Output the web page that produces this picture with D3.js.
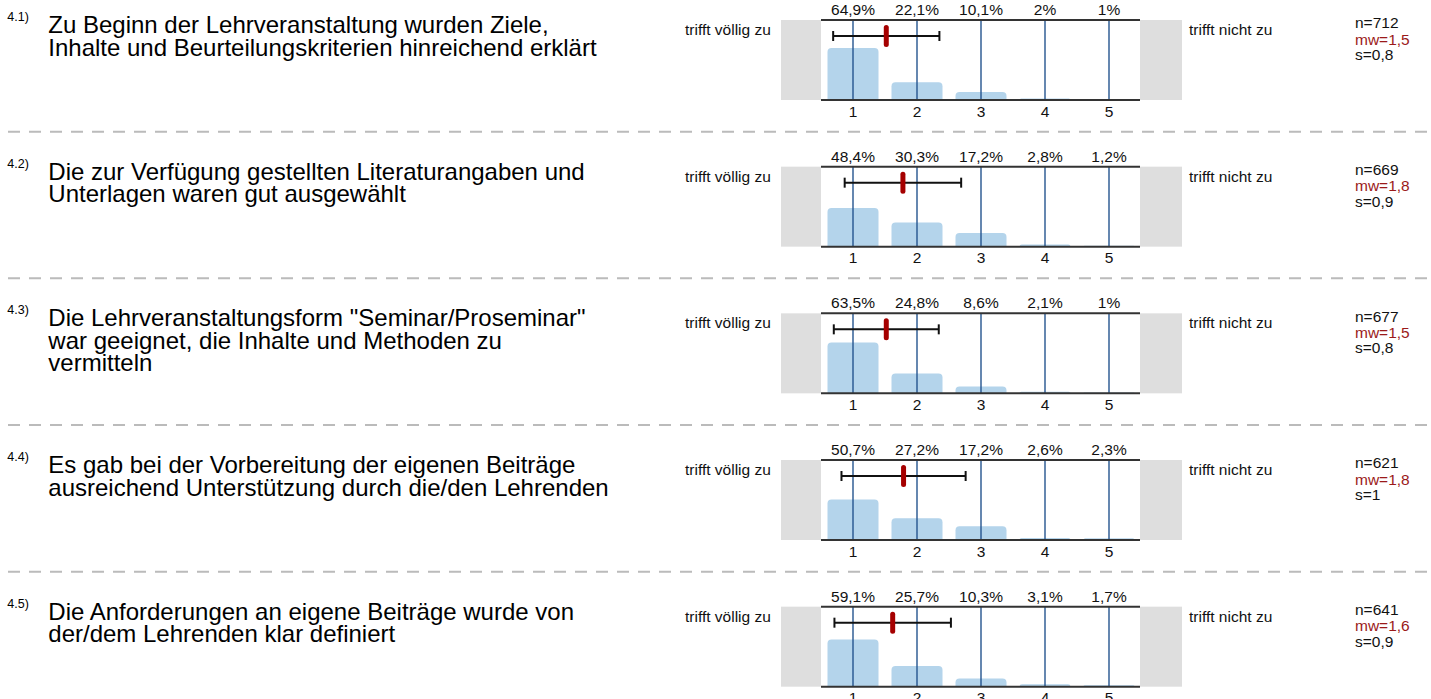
<!DOCTYPE html>
<html>
<head>
<meta charset="utf-8">
<script src="https://cdn.jsdelivr.net/npm/d3@7"></script>
<style>
  html, body { margin: 0; padding: 0; background: #fff; }
  svg { display: block; font-family: "Liberation Sans", Arial, sans-serif; }
</style>
</head>
<body>
<svg id="chart" width="1431" height="699"></svg>
<script>
// ---------- data ----------
const questionIds = ["4.1)", "4.2)", "4.3)", "4.4)", "4.5)"];
const questionLines = [
  ["Zu Beginn der Lehrveranstaltung wurden Ziele,", "Inhalte und Beurteilungskriterien hinreichend erklärt"],
  ["Die zur Verfügung gestellten Literaturangaben und", "Unterlagen waren gut ausgewählt"],
  ["Die Lehrveranstaltungsform \"Seminar/Proseminar\"", "war geeignet, die Inhalte und Methoden zu", "vermitteln"],
  ["Es gab bei der Vorbereitung der eigenen Beiträge", "ausreichend Unterstützung durch die/den Lehrenden"],
  ["Die Anforderungen an eigene Beiträge wurde von", "der/dem Lehrenden klar definiert"]
];
const categories = [1, 2, 3, 4, 5];
const tickLabels = ["1", "2", "3", "4", "5"];
const percentages = [
  [64.9, 22.1, 10.1, 2, 1],
  [48.4, 30.3, 17.2, 2.8, 1.2],
  [63.5, 24.8, 8.6, 2.1, 1],
  [50.7, 27.2, 17.2, 2.6, 2.3],
  [59.1, 25.7, 10.3, 3.1, 1.7]
];
const nValues = [712, 669, 677, 621, 641];
const meanValues = [1.52, 1.78, 1.52, 1.79, 1.62];
const sdValues = [0.83, 0.91, 0.82, 0.97, 0.91];
const leftLabel = "trifft völlig zu";
const rightLabel = "trifft nicht zu";

// ---------- layout ----------
const svg = d3.select("#chart");
const panelTop0 = 20, panelStep = 146.67, plotH = 80;
const plotL = 821, plotR = 1140, greyL = 781, greyR = 1182;
const x = d3.scaleLinear().domain([0.5, 5.5]).range([plotL, plotL + 320]);
const y = d3.scaleLinear().domain([0, 100]).range([plotH, 0]);
const barW = 51, r = 4;
const fmtNum = v => String(v).replace(".", ",");
const fmt1 = d3.format(".1~f");
const smallFont = 15.5;

function barPath(cx, h) {
  const x0 = cx - barW / 2, x1 = cx + barW / 2, yb = plotH, yt = plotH - h;
  const rr = Math.min(r, h);
  return `M${x0},${yb}L${x0},${yt + rr}Q${x0},${yt} ${x0 + rr},${yt}L${x1 - rr},${yt}Q${x1},${yt} ${x1},${yt + rr}L${x1},${yb}Z`;
}

questionIds.forEach((qid, i) => {
  const T = panelTop0 + i * panelStep;
  const g = svg.append("g").attr("transform", `translate(0,${T})`);

  // question number + text
  g.append("text").attr("x", 7.3).attr("y", 1)
    .attr("font-size", 12.5).attr("fill", "#000").text(qid);
  questionLines[i].forEach((line, k) => {
    g.append("text").attr("x", 48.3).attr("y", 13 + k * 22.5)
      .attr("font-size", 24).attr("fill", "#000").text(line);
  });

  // grey frame + white plot area
  g.append("rect").attr("x", greyL).attr("y", 0).attr("width", greyR - greyL).attr("height", plotH).attr("fill", "#dedede");
  g.append("rect").attr("x", plotL).attr("y", 0).attr("width", plotR - plotL).attr("height", plotH).attr("fill", "#fff");

  // bars
  g.selectAll("path.bar").data(percentages[i]).enter().append("path")
    .attr("class", "bar")
    .attr("d", (d, j) => barPath(x(categories[j]), plotH - y(d)))
    .attr("fill", "#b4d4eb");

  // vertical grid lines
  g.selectAll("line.grid").data(categories).enter().append("line")
    .attr("x1", d => x(d)).attr("x2", d => x(d)).attr("y1", 0).attr("y2", plotH)
    .attr("stroke", "#24548f").attr("stroke-width", 1.4);

  // top / bottom lines
  g.append("line").attr("x1", plotL).attr("x2", plotR).attr("y1", 0).attr("y2", 0).attr("stroke", "#333").attr("stroke-width", 2);
  g.append("line").attr("x1", plotL).attr("x2", plotR).attr("y1", plotH).attr("y2", plotH).attr("stroke", "#333").attr("stroke-width", 2);

  // percent labels
  g.selectAll("text.pct").data(percentages[i]).enter().append("text")
    .attr("class", "pct")
    .attr("x", (d, j) => x(categories[j])).attr("y", -5)
    .attr("text-anchor", "middle").attr("font-size", smallFont).attr("fill", "#111")
    .text(d => fmtNum(d) + "%");

  // tick labels
  g.selectAll("text.tick").data(tickLabels).enter().append("text")
    .attr("class", "tick")
    .attr("x", (d, j) => x(categories[j])).attr("y", 96.5)
    .attr("text-anchor", "middle").attr("font-size", smallFont).attr("fill", "#111")
    .text(d => d);

  // error bar
  const m = meanValues[i], s = sdValues[i];
  const ey = 16;
  g.append("line").attr("x1", x(m - s)).attr("x2", x(m + s)).attr("y1", ey).attr("y2", ey).attr("stroke", "#111").attr("stroke-width", 2);
  [m - s, m + s].forEach(v => {
    g.append("line").attr("x1", x(v)).attr("x2", x(v)).attr("y1", ey - 5).attr("y2", ey + 5).attr("stroke", "#111").attr("stroke-width", 2);
  });
  g.append("line").attr("x1", x(m)).attr("x2", x(m)).attr("y1", 7.5).attr("y2", 24.5)
    .attr("stroke", "#a50000").attr("stroke-width", 5).attr("stroke-linecap", "round");

  // side labels
  g.append("text").attr("x", 685).attr("y", 15).attr("font-size", smallFont).attr("fill", "#111").text(leftLabel);
  g.append("text").attr("x", 1189).attr("y", 15).attr("font-size", smallFont).attr("fill", "#111").text(rightLabel);

  // stats
  g.append("text").attr("x", 1355).attr("y", 8.3).attr("font-size", smallFont).attr("fill", "#111").text("n=" + nValues[i]);
  g.append("text").attr("x", 1355).attr("y", 24.5).attr("font-size", smallFont).attr("fill", "#9b1a1a").text("mw=" + fmt1(m).replace(".", ","));
  g.append("text").attr("x", 1355).attr("y", 40).attr("font-size", smallFont).attr("fill", "#111").text("s=" + fmt1(s).replace(".", ","));

  // separator
  if (i < questionIds.length - 1) {
    g.append("line").attr("x1", 8).attr("x2", 1430).attr("y1", 111.7).attr("y2", 111.7)
      .attr("stroke", "#bbb").attr("stroke-width", 2).attr("stroke-dasharray", "12,9");
  }
});
</script>
</body>
</html>
